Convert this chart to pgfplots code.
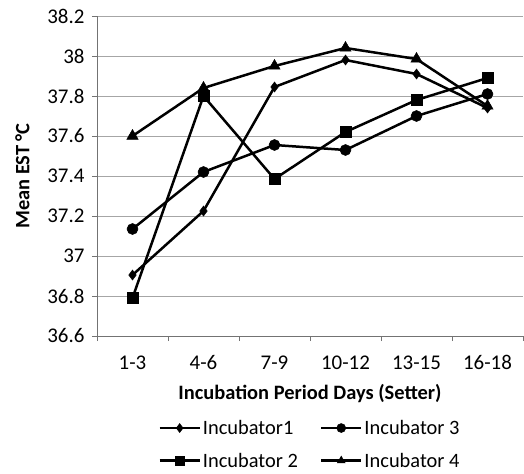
\documentclass[border=0pt]{standalone}
\usepackage{fontspec}
\setmainfont{Carlito}
\usepackage{pgfplots}
\pgfplotsset{compat=1.18}
\begin{document}
\begin{tikzpicture}
\begin{axis}[
  scale only axis, width=426bp, height=320bp,
  xmin=-0.5, xmax=5.5, ymin=36.6, ymax=38.2,
  axis lines=left, axis line style={-, draw=black!55, line width=0.8bp},
  ytick={36.6,36.8,37,37.2,37.4,37.6,37.8,38,38.2},
  yticklabels={36.6,36.8,37,37.2,37.4,37.6,37.8,38,38.2},
  xtick={0,1,2,3,4,5},
  xticklabels={1-3,4-6,7-9,10-12,13-15,16-18},
  minor xtick={-0.5,0.5,1.5,2.5,3.5,4.5,5.5},
  major x tick style={draw=none},
  tick align=outside, major tick length=5bp, minor tick length=5bp,
  tick style={draw=black!55, line width=0.8bp},
  ymajorgrids, grid style={draw=black!35, line width=0.8bp},
  tick label style={font=\fontsize{21}{24}\selectfont},
  xticklabel style={yshift=-11bp},
  yticklabel style={xshift=-4bp},
  /pgf/number format/assume math mode=true,
  xlabel={\bfseries Incubation Period Days (Setter)},
  ylabel={\bfseries Mean EST °C},
  label style={font=\fontsize{20.5}{24}\selectfont},
  xlabel style={yshift=-8bp},
  ylabel style={yshift=11bp},
  legend columns=2,
  legend style={at={(0.5,-0.25)}, anchor=north, draw=none, fill=none,
    font=\fontsize{20.5}{24}\selectfont, row sep=13bp,
    /tikz/every even column/.append style={column sep=20bp}},
  legend image code/.code={\draw[#1, mark=none] (0bp,0bp) -- (40bp,0bp);
    \draw[#1, only marks, mark size=4.5bp] plot coordinates {(20bp,0bp)};},
  legend cell align=left,
  every axis plot/.append style={black, line width=2.5bp, mark options={solid, fill=black, line width=0.5bp}},
  clip=false,
]
\coordinate (SW) at (rel axis cs:0,0);
\coordinate (NE) at (rel axis cs:1,1);
\addplot[mark=diamond*, mark size=5bp] coordinates {(0,36.905) (1,37.225) (2,37.845) (3,37.98) (4,37.91) (5,37.74)};
\addlegendentry{Incubator1}
\addplot[mark=*, mark size=5.5bp] coordinates {(0,37.135) (1,37.42) (2,37.555) (3,37.53) (4,37.70) (5,37.81)};
\addlegendentry{Incubator 3}
\addplot[mark=square*, mark size=5.5bp] coordinates {(0,36.79) (1,37.80) (2,37.385) (3,37.62) (4,37.78) (5,37.89)};
\addlegendentry{Incubator 2}
\addplot[mark=triangle*, mark size=6.5bp] coordinates {(0,37.60) (1,37.84) (2,37.95) (3,38.04) (4,37.985) (5,37.75)};
\addlegendentry{Incubator 4}
\end{axis}
\path ([shift={(-97bp,-138bp)}]SW) rectangle ([shift={(1bp,16bp)}]NE);
\end{tikzpicture}
\end{document}
